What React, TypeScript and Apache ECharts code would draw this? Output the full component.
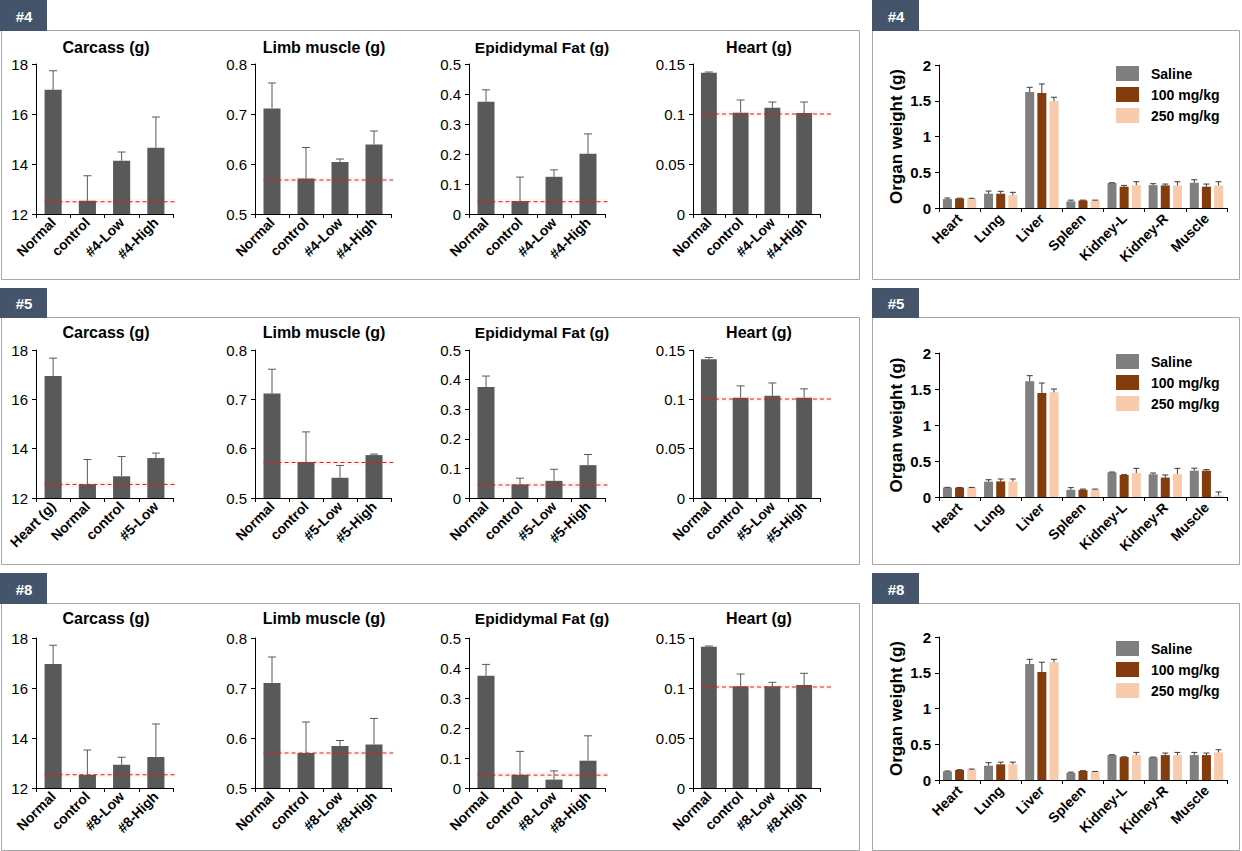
import React, { useEffect, useRef } from "react";
import * as echarts from "echarts";

// ---------- DATA ----------
const GROUP_LABELS = ["#4", "#5", "#8"];
const PANEL_TITLES = ["Carcass (g)", "Limb muscle (g)", "Epididymal Fat (g)", "Heart (g)"];

const CATS_4 = ["Normal", "control", "#4-Low", "#4-High"];
const CATS_5_CARCASS = ["Heart (g)", "Normal", "control", "#5-Low"];
const CATS_5 = ["Normal", "control", "#5-Low", "#5-High"];
const CATS_8 = ["Normal", "control", "#8-Low", "#8-High"];

const Y_MIN = [12, 0.5, 0, 0];
const Y_MAX = [18, 0.8, 0.5, 0.15];
const Y_INTERVAL = [2, 0.1, 0.1, 0.05];

// #4
const G4_CARCASS = [16.97, 12.53, 14.13, 14.65];
const G4_CARCASS_ERR = [0.76, 1.0, 0.35, 1.23];
const G4_LIMB = [0.711, 0.571, 0.604, 0.639];
const G4_LIMB_ERR = [0.051, 0.062, 0.006, 0.027];
const G4_FAT = [0.374, 0.043, 0.124, 0.201];
const G4_FAT_ERR = [0.04, 0.08, 0.023, 0.066];
const G4_HEART = [0.1413, 0.1013, 0.1063, 0.101];
const G4_HEART_ERR = [0.0007, 0.0127, 0.0057, 0.011];
const G4_REF = [12.49, 0.568, 0.041, 0.1];

// #5
const G5_CARCASS = [16.95, 12.56, 12.88, 13.62];
const G5_CARCASS_ERR = [0.72, 1.0, 0.8, 0.2];
const G5_LIMB = [0.712, 0.573, 0.541, 0.587];
const G5_LIMB_ERR = [0.049, 0.061, 0.025, 0.002];
const G5_FAT = [0.375, 0.046, 0.058, 0.111];
const G5_FAT_ERR = [0.037, 0.021, 0.039, 0.036];
const G5_HEART = [0.1407, 0.1017, 0.1036, 0.1017];
const G5_HEART_ERR = [0.0017, 0.0119, 0.013, 0.0089];
const G5_REF = [12.55, 0.572, 0.044, 0.1003];

// #8
const G8_CARCASS = [16.96, 12.53, 12.93, 13.24];
const G8_CARCASS_ERR = [0.75, 0.99, 0.3, 1.32];
const G8_LIMB = [0.71, 0.57, 0.584, 0.587];
const G8_LIMB_ERR = [0.052, 0.062, 0.011, 0.052];
const G8_FAT = [0.374, 0.044, 0.028, 0.091];
const G8_FAT_ERR = [0.038, 0.078, 0.029, 0.083];
const G8_HEART = [0.1413, 0.1017, 0.1017, 0.103];
const G8_HEART_ERR = [0.0007, 0.0123, 0.004, 0.0117];
const G8_REF = [12.53, 0.57, 0.043, 0.101];

// Organ weights
const ORGANS = ["Heart", "Lung", "Liver", "Spleen", "Kidney-L", "Kidney-R", "Muscle"];
const DOSES = ["Saline", "100 mg/kg", "250 mg/kg"];
const ORGAN_Y_TICKS = [0, 0.5, 1, 1.5, 2];

const G4_SALINE = [0.125, 0.2, 1.623, 0.093, 0.349, 0.32, 0.353];
const G4_SALINE_ERR = [0.015, 0.037, 0.065, 0.017, 0.004, 0.02, 0.042];
const G4_100 = [0.133, 0.2, 1.609, 0.105, 0.298, 0.316, 0.298];
const G4_100_ERR = [0.004, 0.033, 0.126, 0.005, 0.018, 0.019, 0.037];
const G4_250 = [0.13, 0.18, 1.498, 0.105, 0.32, 0.316, 0.316];
const G4_250_ERR = [0.006, 0.039, 0.051, 0.005, 0.047, 0.051, 0.051];

const G5_SALINE = [0.13, 0.213, 1.606, 0.1, 0.343, 0.315, 0.366];
const G5_SALINE_ERR = [0.004, 0.027, 0.079, 0.03, 0.004, 0.018, 0.034];
const G5_100 = [0.13, 0.217, 1.444, 0.1, 0.306, 0.27, 0.366];
const G5_100_ERR = [0.003, 0.033, 0.139, 0.01, 0.004, 0.036, 0.014];
const G5_250 = [0.13, 0.217, 1.454, 0.1, 0.333, 0.32, 0.023];
const G5_250_ERR = [0.003, 0.033, 0.046, 0.01, 0.065, 0.078, 0.047];

const G8_SALINE = [0.12, 0.2, 1.623, 0.1, 0.349, 0.316, 0.349];
const G8_SALINE_ERR = [0.006, 0.042, 0.065, 0.01, 0.004, 0.004, 0.037];
const G8_100 = [0.14, 0.219, 1.51, 0.126, 0.32, 0.349, 0.349];
const G8_100_ERR = [0.004, 0.031, 0.137, 0.004, 0.004, 0.028, 0.028];
const G8_250 = [0.144, 0.219, 1.647, 0.116, 0.349, 0.349, 0.386];
const G8_250_ERR = [0.009, 0.031, 0.041, 0.004, 0.037, 0.037, 0.037];

// ---------- LAYOUT / STYLE ----------
const FONT = "Arial, 'Liberation Sans', sans-serif";
const LABEL_TOPS = [0, 288, 573];
const FRAME_TOPS = [30, 317, 603];
const FRAME_BOTTOMS = [279, 564, 850];
const SMALL_LEFT = [36, 255, 469, 693];
const SMALL_WIDTH = [137, 136, 136, 127];
const SMALL_TOP = [64, 350, 638];
const SMALL_HEIGHT = [150, 148, 150];
const TITLE_X = [106, 324, 542, 759];
const TITLE_Y = [47, 332, 618];
const TITLE_SIZE = [16, 16, 15.5, 16];
const REF_EXT = [2, 2, 3, 11];
const ORGAN_LEFT = 939;
const ORGAN_WIDTH = 288;
const ORGAN_TOP = [65, 353, 637];
const ORGAN_HEIGHT = [143, 144, 143];
const LEGEND_TOP = [66, 354, 641];
const DOSE_COLORS = ["#7f7f7f", "#843c0c", "#f8cbad"];
const BAR_W = 9;
const BAR_GAP_RATIO = 0.35;
const LABEL_BG = "#44546a";
const FRAME_COLOR = "#a6a6a6";
const BAR_COLOR = "#595959";

const GROUPS = [
  {
    panels: [
      { cats: CATS_4, mean: G4_CARCASS, err: G4_CARCASS_ERR },
      { cats: CATS_4, mean: G4_LIMB, err: G4_LIMB_ERR },
      { cats: CATS_4, mean: G4_FAT, err: G4_FAT_ERR },
      { cats: CATS_4, mean: G4_HEART, err: G4_HEART_ERR },
    ],
    refs: G4_REF,
    organs: [
      [G4_SALINE, G4_SALINE_ERR],
      [G4_100, G4_100_ERR],
      [G4_250, G4_250_ERR],
    ],
  },
  {
    panels: [
      { cats: CATS_5_CARCASS, mean: G5_CARCASS, err: G5_CARCASS_ERR },
      { cats: CATS_5, mean: G5_LIMB, err: G5_LIMB_ERR },
      { cats: CATS_5, mean: G5_FAT, err: G5_FAT_ERR },
      { cats: CATS_5, mean: G5_HEART, err: G5_HEART_ERR },
    ],
    refs: G5_REF,
    organs: [
      [G5_SALINE, G5_SALINE_ERR],
      [G5_100, G5_100_ERR],
      [G5_250, G5_250_ERR],
    ],
  },
  {
    panels: [
      { cats: CATS_8, mean: G8_CARCASS, err: G8_CARCASS_ERR },
      { cats: CATS_8, mean: G8_LIMB, err: G8_LIMB_ERR },
      { cats: CATS_8, mean: G8_FAT, err: G8_FAT_ERR },
      { cats: CATS_8, mean: G8_HEART, err: G8_HEART_ERR },
    ],
    refs: G8_REF,
    organs: [
      [G8_SALINE, G8_SALINE_ERR],
      [G8_100, G8_100_ERR],
      [G8_250, G8_250_ERR],
    ],
  },
];

function errorBarRender(capHalf: number, color: string, offset: number) {
  return (params: any, api: any) => {
    const i = api.value(0);
    const v = api.value(1);
    const e = api.value(2);
    const base = api.coord([i, v]);
    const top = api.coord([i, v + e]);
    const x = base[0] + offset;
    return {
      type: "group",
      children: [
        { type: "line", shape: { x1: x, y1: base[1], x2: x, y2: top[1] }, style: { stroke: color, lineWidth: 1 } },
        { type: "line", shape: { x1: x - capHalf, y1: top[1], x2: x + capHalf, y2: top[1] }, style: { stroke: color, lineWidth: 1 } },
      ],
    };
  };
}

function refLineRender(ext: number) {
  return (params: any, api: any) => {
    const p = api.coord([0, api.value(1)]);
    const band = api.size([1, 0])[0];
    const cs = params.coordSys;
    const x1 = p[0] - band * 0.25;
    const x2 = cs.x + cs.width + ext;
    return {
      type: "group",
      children: [
        { type: "rect", shape: { x: x1, y: p[1] - 3, width: x2 - x1, height: 6 }, style: { fill: "rgba(190,30,50,0.05)" } },
        { type: "line", shape: { x1, y1: p[1], x2, y2: p[1] }, style: { stroke: "#d42020", lineWidth: 1, lineDash: [4, 3] } },
      ],
    };
  };
}

function buildOption() {
  const grid: any[] = [];
  const xAxis: any[] = [];
  const yAxis: any[] = [];
  const series: any[] = [];
  const graphic: any[] = [];
  const legend: any[] = [];

  GROUPS.forEach((g, r) => {
    graphic.push({
      type: "rect",
      shape: { x: 1.5, y: FRAME_TOPS[r] + 0.5, width: 858, height: FRAME_BOTTOMS[r] - FRAME_TOPS[r] },
      style: { fill: "none", stroke: FRAME_COLOR, lineWidth: 1 },
      silent: true,
    });
    graphic.push({
      type: "rect",
      shape: { x: 872.5, y: FRAME_TOPS[r] + 0.5, width: 367, height: FRAME_BOTTOMS[r] - FRAME_TOPS[r] },
      style: { fill: "none", stroke: FRAME_COLOR, lineWidth: 1 },
      silent: true,
    });
    [0, 872].forEach((lx) => {
      graphic.push({
        type: "rect",
        shape: { x: lx, y: LABEL_TOPS[r], width: 47, height: FRAME_TOPS[r] - LABEL_TOPS[r] + 1 },
        style: { fill: LABEL_BG },
        silent: true,
      });
      graphic.push({
        type: "text",
        x: lx + 24,
        y: (LABEL_TOPS[r] + FRAME_TOPS[r]) / 2 + 1,
        style: {
          text: GROUP_LABELS[r],
          fill: "#ffffff",
          font: `bold 15px ${FONT}`,
          textAlign: "center",
          textVerticalAlign: "middle",
        },
        silent: true,
      });
    });

    g.panels.forEach((p, c) => {
      const k = grid.length;
      grid.push({ left: SMALL_LEFT[c], top: SMALL_TOP[r], width: SMALL_WIDTH[c], height: SMALL_HEIGHT[r], containLabel: false });
      graphic.push({
        type: "text",
        x: TITLE_X[c],
        y: TITLE_Y[r],
        style: {
          text: PANEL_TITLES[c],
          fill: "#000",
          font: `bold ${TITLE_SIZE[c]}px ${FONT}`,
          textAlign: "center",
          textVerticalAlign: "middle",
        },
        silent: true,
      });
      xAxis.push({
        type: "category",
        gridIndex: k,
        data: p.cats,
        axisLine: { show: true, lineStyle: { color: "#000", width: 1 } },
        axisTick: { show: true, length: 4, interval: 0, lineStyle: { color: "#000" } },
        axisLabel: { interval: 0, rotate: 45, fontSize: 14, fontWeight: "bold", color: "#000", margin: 6, fontFamily: FONT },
        splitLine: { show: false },
      });
      yAxis.push({
        type: "value",
        gridIndex: k,
        min: Y_MIN[c],
        max: Y_MAX[c],
        interval: Y_INTERVAL[c],
        splitLine: { show: false },
        axisLine: { show: true, lineStyle: { color: "#000", width: 1 } },
        axisTick: { show: true, length: 4, lineStyle: { color: "#000" } },
        axisLabel: { fontSize: 15, color: "#000", margin: 8, fontFamily: FONT },
      });
      series.push({
        type: "bar",
        xAxisIndex: k,
        yAxisIndex: k,
        data: p.mean,
        barWidth: "50%",
        itemStyle: { color: BAR_COLOR },
        silent: true,
      });
      series.push({
        type: "custom",
        xAxisIndex: k,
        yAxisIndex: k,
        data: p.mean.map((v, i) => [i, v, p.err[i]]),
        renderItem: errorBarRender(4, BAR_COLOR, 0),
        silent: true,
        z: 3,
      });
      series.push({
        type: "custom",
        xAxisIndex: k,
        yAxisIndex: k,
        data: [[0, g.refs[c]]],
        renderItem: refLineRender(REF_EXT[c]),
        silent: true,
        z: 4,
      });
    });

    const k = grid.length;
    grid.push({ left: ORGAN_LEFT, top: ORGAN_TOP[r], width: ORGAN_WIDTH, height: ORGAN_HEIGHT[r], containLabel: false });
    xAxis.push({
      type: "category",
      gridIndex: k,
      data: ORGANS,
      axisLine: { show: true, lineStyle: { color: "#000", width: 1 } },
      axisTick: { show: true, length: 4, interval: 0, lineStyle: { color: "#000" } },
      axisLabel: { interval: 0, rotate: 45, fontSize: 14, fontWeight: "bold", color: "#000", margin: 8, fontFamily: FONT },
      splitLine: { show: false },
    });
    yAxis.push({
      type: "value",
      gridIndex: k,
      min: ORGAN_Y_TICKS[0],
      max: ORGAN_Y_TICKS[ORGAN_Y_TICKS.length - 1],
      interval: ORGAN_Y_TICKS[1] - ORGAN_Y_TICKS[0],
      name: "Organ weight (g)",
      nameLocation: "middle",
      nameGap: 34,
      nameTextStyle: { fontSize: 17, fontWeight: "bold", color: "#000", fontFamily: FONT },
      splitLine: { show: false },
      axisLine: { show: true, lineStyle: { color: "#000", width: 1 } },
      axisTick: { show: true, length: 4, lineStyle: { color: "#000" } },
      axisLabel: { fontSize: 15, fontWeight: "bold", color: "#000", margin: 8, fontFamily: FONT },
    });
    const gapPx = BAR_W * BAR_GAP_RATIO;
    g.organs.forEach(([vals], d) => {
      series.push({
        type: "bar",
        name: DOSES[d],
        xAxisIndex: k,
        yAxisIndex: k,
        data: vals,
        barWidth: BAR_W,
        barGap: `${BAR_GAP_RATIO * 100}%`,
        itemStyle: { color: DOSE_COLORS[d] },
        silent: true,
      });
    });
    g.organs.forEach(([vals, errs], d) => {
      series.push({
        type: "custom",
        xAxisIndex: k,
        yAxisIndex: k,
        data: vals.map((v, i) => [i, v, errs[i]]),
        renderItem: errorBarRender(3, "#3a3a3a", (d - 1) * (BAR_W + gapPx)),
        silent: true,
        z: 3,
      });
    });
    legend.push({
      data: DOSES,
      orient: "vertical",
      left: 1116,
      top: LEGEND_TOP[r],
      padding: 0,
      itemWidth: 23,
      itemHeight: 15,
      itemGap: 6,
      icon: "rect",
      selectedMode: false,
      textStyle: { fontSize: 14, fontWeight: "bold", color: "#000", fontFamily: FONT, padding: [0, 0, 0, 7] },
    });
  });

  return {
    animation: false,
    backgroundColor: "#ffffff",
    textStyle: { fontFamily: FONT },
    grid,
    xAxis,
    yAxis,
    series,
    legend,
    graphic,
  };
}

export default function App() {
  const ref = useRef<HTMLDivElement>(null);
  useEffect(() => {
    if (!ref.current) return;
    const chart = echarts.init(ref.current, null, { renderer: "svg" });
    chart.setOption(buildOption() as any);
    return () => chart.dispose();
  }, []);
  return (
    <div
      ref={ref}
      style={{ position: "absolute", left: 0, top: 0, width: 1242, height: 851, background: "#fff" }}
    />
  );
}
